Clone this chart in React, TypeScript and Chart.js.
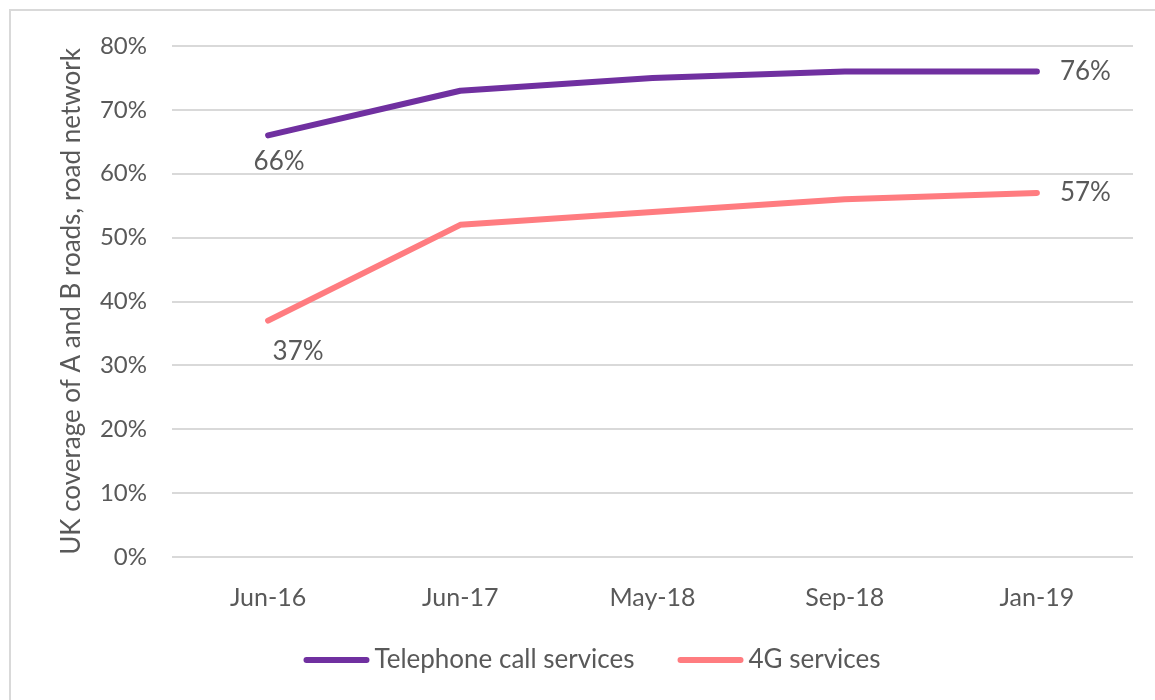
import React, { useEffect, useRef } from "react";
import { Chart, registerables } from "chart.js";

Chart.register(...registerables);

const categories = ["Jun-16", "Jun-17", "May-18", "Sep-18", "Jan-19"];
const telephoneValues = [66, 73, 75, 76, 76];
const fourGValues = [37, 52, 54, 56, 57];
const yTicks = [0, 10, 20, 30, 40, 50, 60, 70, 80];
const seriesNames = ["Telephone call services", "4G services"];
const yTitle = "UK coverage of A and B roads, road network";

const PURPLE = "#7030A0";
const PINK = "#FF7C80";
const TEXT = "#595959";
const GRID = "#D9D9D9";
const FONT = "Lato, 'Open Sans', sans-serif";

// which points get a value label, and where (style only)
const labelSpec: Record<number, { index: number; dx: number; dy: number; align: CanvasTextAlign }[]> = {
  0: [
    { index: 0, dx: 11, dy: 26, align: "center" },
    { index: 4, dx: 23, dy: 0, align: "left" },
  ],
  1: [
    { index: 0, dx: 30, dy: 31, align: "center" },
    { index: 4, dx: 23, dy: 0, align: "left" },
  ],
};

const valueLabelPlugin = {
  id: "valueLabels",
  afterDatasetsDraw(chart: any) {
    const ctx = chart.ctx;
    ctx.save();
    ctx.font = `26px ${FONT}`;
    ctx.fillStyle = TEXT;
    ctx.textBaseline = "middle";
    chart.data.datasets.forEach((ds: any, di: number) => {
      const meta = chart.getDatasetMeta(di);
      (labelSpec[di] || []).forEach((s) => {
        const pt = meta.data[s.index];
        if (!pt) return;
        ctx.textAlign = s.align;
        ctx.fillText(ds.data[s.index] + "%", pt.x + s.dx, pt.y + s.dy);
      });
    });
    ctx.restore();
  },
};

const legendPlugin = {
  id: "customLegend",
  afterDraw(chart: any) {
    const ctx = chart.ctx;
    ctx.save();
    ctx.font = `26px ${FONT}`;
    ctx.textBaseline = "middle";
    const sample = 66;
    const gap = 5;
    const between = 43;
    const items = chart.data.datasets.map((ds: any) => ({
      label: ds.label,
      color: ds.borderColor,
      w: sample + gap + ctx.measureText(ds.label).width,
    }));
    const total = items.reduce((a: number, it: any) => a + it.w, 0) + between * (items.length - 1);
    let x = 592 - total / 2;
    const y = 660;
    items.forEach((it: any) => {
      ctx.strokeStyle = it.color;
      ctx.lineWidth = 6;
      ctx.lineCap = "round";
      ctx.beginPath();
      ctx.moveTo(x + 3, y);
      ctx.lineTo(x + sample - 3, y);
      ctx.stroke();
      ctx.fillStyle = TEXT;
      ctx.textAlign = "left";
      ctx.fillText(it.label, x + sample + gap, y);
      x += it.w + between;
    });
    ctx.restore();
  },
};

export default function App() {
  const canvasRef = useRef<HTMLCanvasElement | null>(null);

  useEffect(() => {
    if (!canvasRef.current) return;
    const chart = new Chart(canvasRef.current, {
      type: "line",
      data: {
        labels: categories,
        datasets: [
          {
            label: seriesNames[0],
            data: telephoneValues,
            borderColor: PURPLE,
            backgroundColor: PURPLE,
            borderWidth: 6,
            borderCapStyle: "round",
            borderJoinStyle: "round",
            pointRadius: 0,
            tension: 0,
          },
          {
            label: seriesNames[1],
            data: fourGValues,
            borderColor: PINK,
            backgroundColor: PINK,
            borderWidth: 6,
            borderCapStyle: "round",
            borderJoinStyle: "round",
            pointRadius: 0,
            tension: 0,
          },
        ],
      },
      options: {
        responsive: false,
        animation: false,
        layout: { padding: { left: 50, top: 46, right: 22, bottom: 0 } },
        plugins: {
          legend: { display: false },
          tooltip: { enabled: false },
        },
        scales: {
          x: {
            offset: true,
            grid: { display: false, drawTicks: false },
            border: { display: false },
            ticks: {
              color: TEXT,
              font: { family: FONT, size: 25 },
              padding: 26,
              maxRotation: 0,
            },
            afterFit(scale: any) {
              scale.height = 143;
            },
          },
          y: {
            min: 0,
            max: 80,
            afterBuildTicks(scale: any) {
              scale.ticks = yTicks.map((v) => ({ value: v }));
            },
            grid: { color: GRID, lineWidth: 2, drawTicks: false },
            border: { display: false },
            ticks: {
              color: TEXT,
              font: { family: FONT, size: 24 },
              padding: 25,
              callback: (v: any) => v + "%",
            },
            title: {
              display: true,
              text: yTitle,
              color: TEXT,
              font: { family: FONT, size: 26 },
              padding: { top: 6, bottom: 0 },
            },
            afterFit(scale: any) {
              scale.width = 122;
            },
          },
        },
      },
      plugins: [valueLabelPlugin, legendPlugin],
    });
    return () => chart.destroy();
  }, []);

  return (
    <div
      style={{
        position: "fixed",
        left: 0,
        top: 0,
        width: 1155,
        height: 700,
        overflow: "hidden",
        background: "#fff",
      }}
    >
      <div
        style={{
          position: "absolute",
          left: 9,
          top: 9,
          width: 1300,
          height: 900,
          borderLeft: `2px solid ${GRID}`,
          borderTop: `2px solid ${GRID}`,
        }}
      />
      <canvas
        ref={canvasRef}
        width={1155}
        height={700}
        style={{ position: "absolute", left: 0, top: 0 }}
      />
    </div>
  );
}
